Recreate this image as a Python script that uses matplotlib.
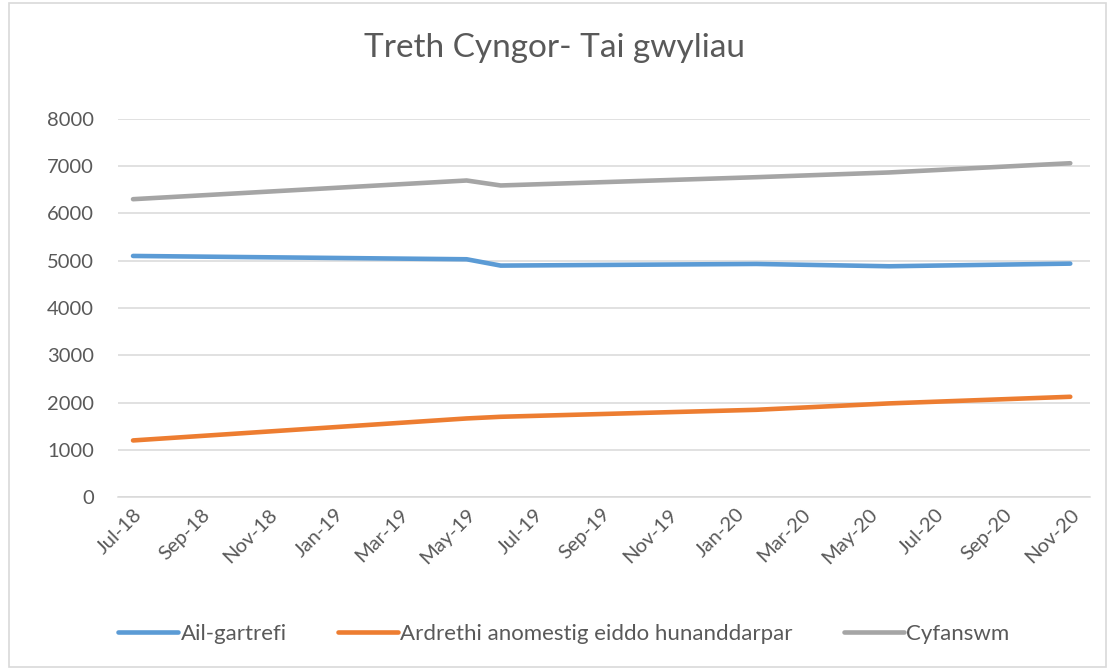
import matplotlib
matplotlib.use("Agg")
import matplotlib.pyplot as plt
import matplotlib.dates as mdates
import matplotlib.patches as patches
import datetime as dt

plt.rcParams['font.family'] = ['Lato', 'DejaVu Sans']

# ---- data ----
dates = [dt.date(2018, 7, 1), dt.date(2019, 5, 1), dt.date(2019, 6, 1),
         dt.date(2020, 1, 20), dt.date(2020, 5, 20), dt.date(2020, 11, 1)]
ail_gartrefi = [5100, 5030, 4896, 4931, 4882, 4938]
ardrethi = [1200, 1665, 1700, 1848, 1983, 2123]
cyfanswm = [6300, 6695, 6590, 6765, 6865, 7060]

series_names = ["Ail-gartrefi", "Ardrethi anomestig eiddo hunanddarpar", "Cyfanswm"]
colours = ["#5B9BD5", "#ED7D31", "#A5A5A5"]

tick_dates = [dt.date(2018 + (6 + 2 * i) // 12, (6 + 2 * i) % 12 + 1, 1) for i in range(15)]

fig = plt.figure(figsize=(11.1, 6.71), dpi=100)
ax = fig.add_axes([0.106, 0.259, 0.876, 0.564])

for vals, name, col in zip([ail_gartrefi, ardrethi, cyfanswm], series_names, colours):
    ax.plot(dates, vals, color=col, lw=3.3, label=name, solid_capstyle='round',
            solid_joinstyle='round')

ax.set_ylim(0, 8000)
ax.set_yticks(range(0, 8001, 1000))
ax.set_xlim(dt.date(2018, 6, 17), dt.date(2020, 11, 19))
ax.set_xticks(tick_dates)
ax.xaxis.set_major_formatter(mdates.DateFormatter('%b-%y'))
ax.grid(axis='y', color='#D9D9D9', lw=1.1)
ax.set_axisbelow(True)
for s in ['top', 'right', 'left']:
    ax.spines[s].set_visible(False)
ax.spines['bottom'].set_color('#D9D9D9')
ax.spines['bottom'].set_linewidth(1.1)
ax.tick_params(length=0, labelsize=14.5, colors='#595959')
ax.tick_params(axis='y', pad=17)
ax.tick_params(axis='x', pad=6)
for lab in ax.get_xticklabels():
    lab.set_rotation(45)
    lab.set_ha('right')
    lab.set_rotation_mode('anchor')

fig.text(0.5, 0.928, "Treth Cyngor- Tai gwyliau", ha='center', va='center',
         fontsize=24, color='#595959')

fig.legend(loc='center', bbox_to_anchor=(0.508, 0.055), ncol=3, frameon=False,
           fontsize=16, handlelength=2.7, columnspacing=2.3, handletextpad=0.1,
           labelcolor='#595959')

fig.patches.append(patches.Rectangle((0.008, 0.006), 0.988, 0.99, transform=fig.transFigure,
                                     fill=False, edgecolor='#D9D9D9', lw=1.2))

fig.savefig("out.png", dpi=100)
